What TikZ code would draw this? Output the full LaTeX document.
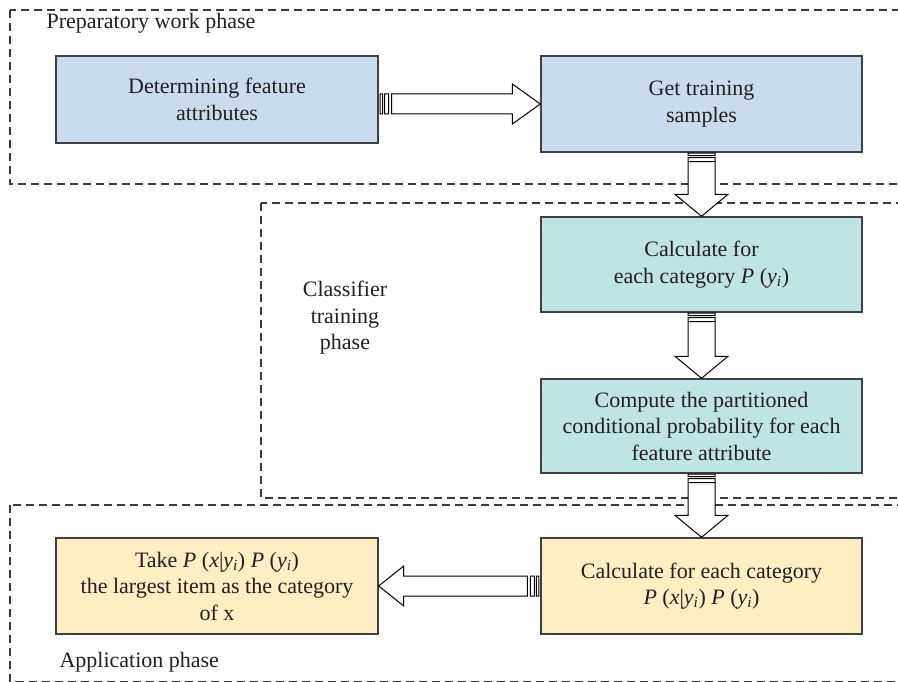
\documentclass[tikz,border=0pt]{standalone}
\usepackage{fontspec}
\setmainfont{Liberation Serif}
\usetikzlibrary{calc}

\definecolor{boxblue}{HTML}{CADBEE}
\definecolor{boxteal}{HTML}{BEE4E3}
\definecolor{boxsand}{HTML}{FDEEC4}
\definecolor{edgegray}{HTML}{404040}
\definecolor{dashgray}{HTML}{3A3A3A}
\definecolor{inkgray}{HTML}{231F20}

% probability terms set in italic text
\newcommand\probY{\textit{P} (\textit{y}\textsubscript{\textit{i}})}
\newcommand\probXY{\textit{P} (\textit{x}|\textit{y}\textsubscript{\textit{i}})}

\tikzset{
  stage/.style={draw=edgegray, line width=1.4pt, align=center, inner sep=0pt,
    minimum width=321pt, font=\fontsize{22}{26.5}\selectfont, text=inkgray},
  phasebox/.style={draw=dashgray, line width=1.3pt, dash pattern=on 8pt off 5pt},
  phaselabel/.style={font=\fontsize{22}{26.5}\selectfont, align=center, text=inkgray},
  blockarrow/.style={draw=black, fill=white, line width=1pt, line join=miter},
}

% striped block arrow pointing down, from the bottom of #1 to the top of #2
\newcommand\downblock[2]{%
  \path[blockarrow] let \p1=(#1.south), \p2=(#2.north) in
    (\x1-13.5pt,\y1-0.5pt) rectangle (\x1+13.5pt,\y1-3pt)
    (\x1-13.5pt,\y1-5pt) rectangle (\x1+13.5pt,\y1-9pt)
    (\x1-13.5pt,\y1-9pt) -- (\x1-13.5pt,\y2+22pt) -- (\x1-26.5pt,\y2+22pt)
    -- (\x1,\y2) -- (\x1+26.5pt,\y2+22pt) -- (\x1+13.5pt,\y2+22pt)
    -- (\x1+13.5pt,\y1-9pt) -- cycle;}

% striped block arrow pointing right, from the east side of #1 to the west side of #2
\newcommand\rightblock[2]{%
  \path[blockarrow] let \p1=(#1.east), \p2=(#2.west) in
    (\x1+1.5pt,\y2+10pt) rectangle (\x1+4pt,\y2-10pt)
    (\x1+6pt,\y2+10pt) rectangle (\x1+10pt,\y2-10pt)
    (\x1+13pt,\y2+10pt) -- (\x2-28pt,\y2+10pt) -- (\x2-28pt,\y2+20pt)
    -- (\x2,\y2) -- (\x2-28pt,\y2-20pt) -- (\x2-28pt,\y2-10pt)
    -- (\x1+13pt,\y2-10pt) -- cycle;}

% striped block arrow pointing left, from the west side of #1 to the east side of #2
\newcommand\leftblock[2]{%
  \path[blockarrow] let \p1=(#1.west), \p2=(#2.east) in
    (\x1-1.5pt,\y1+10pt) rectangle (\x1-4pt,\y1-10pt)
    (\x1-6pt,\y1+10pt) rectangle (\x1-10pt,\y1-10pt)
    (\x1-13pt,\y1+10pt) -- (\x2+25pt,\y1+10pt) -- (\x2+25pt,\y1+20pt)
    -- (\x2,\y1) -- (\x2+25pt,\y1-20pt) -- (\x2+25pt,\y1-10pt)
    -- (\x1-13pt,\y1-10pt) -- cycle;}

\begin{document}
\begin{tikzpicture}[x=1pt, y=-1pt]
\useasboundingbox (0,0) rectangle (898,682);

% phase frames
\draw[phasebox] (10,10) rectangle (905,184);
\draw[phasebox] (261,203) rectangle (905,498);
\draw[phasebox] (10,505) rectangle (905,681.5);

% phase labels
\node[phaselabel, anchor=base west] (prep) at (43,29) {Preparatory work phase};
\node[phaselabel] (train) at (345,318) {Classifier\\training\\phase};
\node[phaselabel, anchor=base west] (appl) at (56,667) {Application phase};

% steps
\node[stage, fill=boxblue, minimum width=322pt, minimum height=87pt] (feat) at (217,99.5)
  {Determining feature\\attributes};
\node[stage, fill=boxblue, minimum height=96pt] (samp) at (701.5,104)
  {Get training\\samples};
\node[stage, fill=boxteal, minimum height=95pt] (prior) at (701.5,264.5)
  {\raisebox{4pt}{Calculate for}\\\raisebox{4pt}{each category \probY}};
\node[stage, fill=boxteal, minimum height=94pt] (cond) at (701.5,426)
  {\raisebox{-4pt}{Compute the partitioned}\\\raisebox{-4pt}{conditional probability for each}\\\raisebox{-4pt}{feature attribute}};
\node[stage, fill=boxsand, minimum height=96pt] (post) at (701.5,586)
  {Calculate for each category\\\probXY\ \probY};
\node[stage, fill=boxsand, minimum width=322pt, minimum height=96pt] (pick) at (217,586)
  {Take \probXY\ \probY\\the largest item as the category\\of x};

% flow
\rightblock{feat}{samp}
\downblock{samp}{prior}
\downblock{prior}{cond}
\downblock{cond}{post}
\leftblock{post}{pick}
\end{tikzpicture}
\end{document}
